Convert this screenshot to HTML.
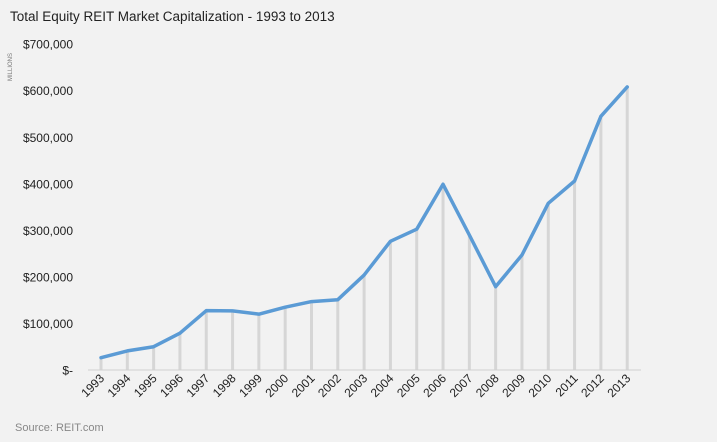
<!DOCTYPE html>
<html><head><meta charset="utf-8"><style>
html,body{margin:0;padding:0;background:#f2f2f2;}
svg{display:block;font-family:"Liberation Sans",sans-serif;}
</style></head><body>
<svg id="chart" width="717" height="442">
<rect width="717" height="442" fill="#f2f2f2"/>
<text x="10" y="21" font-size="13.5" fill="#222">Total Equity REIT Market Capitalization - 1993 to 2013</text>
<text transform="translate(12,81) rotate(-90)" font-size="6" fill="#777">MILLIONS</text>
<text x="15" y="431" font-size="11" fill="#888">Source: REIT.com</text>
<g id="plot"></g>
</svg>
<script>
const years=["1993","1994","1995","1996","1997","1998","1999","2000","2001","2002","2003","2004","2005","2006","2007","2008","2009","2010","2011","2012","2013"];
const values=[26500,41000,50000,79000,127500,127000,120000,135000,147000,151000,204000,276500,302500,399000,290000,179000,247000,358000,406000,545000,608000];
const yTicks=[0,100000,200000,300000,400000,500000,600000,700000];
const yTickLabels=["$-","$100,000","$200,000","$300,000","$400,000","$500,000","$600,000","$700,000"];
const NS="http://www.w3.org/2000/svg";
const g=document.getElementById('plot');
const y0=370,pxPer=46.55/100000,x0=101,step=26.31;
function yS(v){return y0-v*pxPer;}
function xS(i){return x0+i*step;}
function mk(t,a){const e=document.createElementNS(NS,t);for(const k in a)e.setAttribute(k,a[k]);g.appendChild(e);return e;}
yTicks.forEach((v,i)=>{
  const t=mk('text',{x:73,y:yS(v)+4.5,'text-anchor':'end','font-size':12,fill:'#222'});
  t.textContent=yTickLabels[i];
  
  
});
values.forEach((v,i)=>{
  const l=mk('line',{x1:xS(i),x2:xS(i),y1:y0,y2:yS(v),stroke:'#d6d6d6','stroke-width':3});
  
  
});
const ax=mk('line',{x1:88,x2:641,y1:y0,y2:y0,stroke:'#d0d0d0','stroke-width':1});


const pts=values.map((v,i)=>xS(i)+','+yS(v)).join(' ');
const pl=mk('polyline',{points:pts,fill:'none',stroke:'#5b9bd5','stroke-width':3.5,'stroke-linejoin':'round','stroke-linecap':'round'});


years.forEach((yr,i)=>{
  const x=xS(i)+4,y=379;
  const t=mk('text',{x:x,y:y,'text-anchor':'end','font-size':12,fill:'#222',transform:`rotate(-45 ${x} ${y})`});
  t.textContent=yr;
  
  
});
</script>
</body></html>
